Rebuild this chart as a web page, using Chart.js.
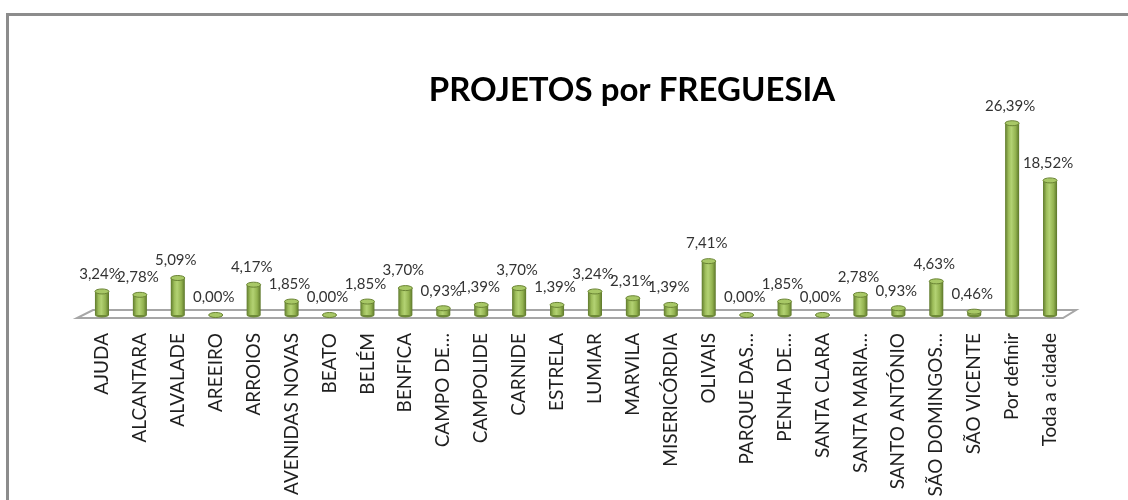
<!DOCTYPE html>
<html>
<head>
<meta charset="utf-8">
<script src="https://cdn.jsdelivr.net/npm/chart.js@4.4.0/dist/chart.umd.min.js"></script>
<style>
  html, body { margin: 0; padding: 0; background: #fff; overflow: hidden; }
  #wrap { position: relative; width: 1128px; height: 500px; overflow: hidden; }
  #frame { position: absolute; left: 6px; top: 13px; width: 1200px; height: 600px;
           border-top: 3px solid #8c8c8c; border-left: 3px solid #8c8c8c; }
  canvas { position: absolute; left: 0; top: 0; }
</style>
</head>
<body>
<div id="wrap">
  <div id="frame"></div>
  <canvas id="chart" width="1128" height="560"></canvas>
</div>
<script>
// freguesias
const categories = ['AJUDA', 'ALCANTARA', 'ALVALADE', 'AREEIRO', 'ARROIOS', 'AVENIDAS NOVAS', 'BEATO',
    'BELÉM', 'BENFICA', 'CAMPO DE…', 'CAMPOLIDE', 'CARNIDE', 'ESTRELA', 'LUMIAR', 'MARVILA',
    'MISERICÓRDIA', 'OLIVAIS', 'PARQUE DAS…', 'PENHA DE…', 'SANTA CLARA', 'SANTA MARIA…',
    'SANTO ANTÓNIO', 'SÃO DOMINGOS…', 'SÃO VICENTE', 'Por definir', 'Toda a cidade'];

// % de projetos
const percentages = [3.24, 2.78, 5.09, 0.00, 4.17, 1.85, 0.00, 1.85, 3.70, 0.93, 1.39, 3.70, 1.39,
    3.24, 2.31, 1.39, 7.41, 0.00, 1.85, 0.00, 2.78, 0.93, 4.63, 0.46, 26.39, 18.52];

const chartTitle = 'PROJETOS por FREGUESIA';
const BAR_PCT = 0.37;

const fmt = v => v.toFixed(2).replace('.', ',') + '%';

// cylinder shading
function cylinderFill(context) {
    const chart = context.chart;
    if (!chart.chartArea) return '#9bbb59';
    const xs = chart.scales.x;
    const cx = xs.getPixelForValue(context.dataIndex);
    const half = (xs.getPixelForValue(1) - xs.getPixelForValue(0)) * BAR_PCT / 2;
    const g = chart.ctx.createLinearGradient(cx - half, 0, cx + half, 0);
    g.addColorStop(0, '#5f7a2c');
    g.addColorStop(0.25, '#9dbd5a');
    g.addColorStop(0.45, '#b3d273');
    g.addColorStop(0.75, '#93b350');
    g.addColorStop(1, '#5c7629');
    return g;
}

// floor + caps + value labels
const decorations = {
    id: 'decorations',
    beforeDatasetsDraw(chart) {
        const { ctx, chartArea } = chart;
        const base = chart.scales.y.getPixelForValue(0);
        ctx.save();
        ctx.beginPath();
        ctx.moveTo(chartArea.left + 10, base - 5);
        ctx.lineTo(chartArea.right + 7, base - 5);
        ctx.lineTo(chartArea.right - 6, base + 3);
        ctx.lineTo(chartArea.left - 6, base + 3);
        ctx.closePath();
        ctx.fillStyle = '#ffffff';
        ctx.fill();
        ctx.lineWidth = 2;
        ctx.strokeStyle = '#a6a6a6';
        ctx.stroke();
        ctx.restore();
    },
    afterDatasetsDraw(chart) {
        const { ctx } = chart;
        const meta = chart.getDatasetMeta(0);
        ctx.save();
        meta.data.forEach((bar, i) => {
            const half = bar.width / 2;
            // base
            ctx.beginPath();
            ctx.ellipse(bar.x, bar.base, half, 2.5, 0, 0, Math.PI);
            ctx.fillStyle = '#6f8b38';
            ctx.fill();
            // top cap
            ctx.beginPath();
            ctx.ellipse(bar.x, bar.y, half, 2.5, 0, 0, Math.PI * 2);
            ctx.fillStyle = '#a8c866';
            ctx.fill();
            ctx.lineWidth = 1;
            ctx.strokeStyle = '#6a8434';
            ctx.stroke();

            ctx.font = '15px Lato, "Liberation Sans", sans-serif';
            ctx.fillStyle = '#333333';
            ctx.textAlign = 'center';
            ctx.textBaseline = 'bottom';
            ctx.fillText(fmt(percentages[i]), bar.x - 2, bar.y - 10);
        });
        // title
        ctx.font = 'bold 33px Lato, "Liberation Sans", sans-serif';
        ctx.fillStyle = '#000000';
        ctx.textAlign = 'center';
        ctx.textBaseline = 'alphabetic';
        ctx.fillText(chartTitle, 632, 101);
        ctx.restore();
    }
};

const ctx = document.getElementById('chart').getContext('2d');

new Chart(ctx, {
    type: 'bar',
    data: {
        labels: categories,
        datasets: [{
            label: chartTitle,
            data: percentages,
            backgroundColor: cylinderFill,
            borderWidth: 0,
            categoryPercentage: 1,
            barPercentage: BAR_PCT
        }]
    },
    options: {
        responsive: false,
        animation: false,
        layout: { padding: { left: 83, right: 59, top: 97, bottom: 0 } },
        plugins: {
            legend: { display: false },
            tooltip: { enabled: false }
        },
        scales: {
            x: {
                grid: { display: false },
                border: { display: false },
                ticks: {
                    autoSkip: false,
                    minRotation: 90,
                    maxRotation: 90,
                    padding: 10,
                    color: '#1f1f1f',
                    font: { size: 19, family: 'Lato, "Liberation Sans", sans-serif' }
                },
                afterFit: s => { s.height = 245; }
            },
            y: {
                display: false,
                min: 0,
                max: 30
            }
        }
    },
    plugins: [decorations]
});
</script>
</body>
</html>
